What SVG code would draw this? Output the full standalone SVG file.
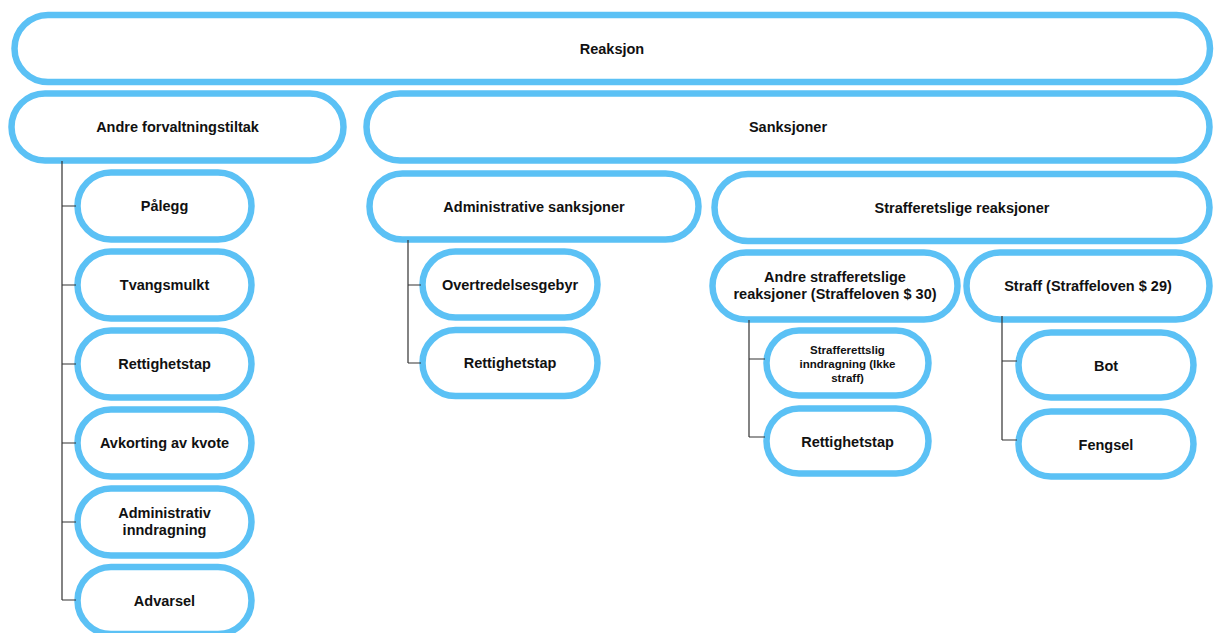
<svg xmlns="http://www.w3.org/2000/svg" width="1214" height="633" viewBox="0 0 1214 633">
  <style>
    .box { fill: #ffffff; stroke: #5BC1F5; stroke-width: 6.5; }
    .lbl { font-family: "Liberation Sans", Arial, sans-serif; font-weight: bold; font-size: 14.5px; fill: #111111; text-anchor: middle; dominant-baseline: central; }
    .sm { font-size: 11.5px; }
    .wire { fill: none; stroke: #333333; stroke-width: 1.2; }
  </style>
  <rect width="1214" height="633" fill="#ffffff"/>

  <g id="reaksjon"><rect class="box" x="14.5" y="15" width="1195.5" height="67" rx="33.5"/><text class="lbl" x="612" y="48.5">Reaksjon</text></g>
  <g id="andre-forvaltningstiltak"><rect class="box" x="11.5" y="93.5" width="332" height="67" rx="33.5"/><text class="lbl" x="177.5" y="127">Andre forvaltningstiltak</text></g>
  <g id="sanksjoner"><rect class="box" x="366.5" y="93.5" width="843" height="67" rx="33.5"/><text class="lbl" x="788" y="127">Sanksjoner</text></g>

  <g id="palegg"><rect class="box" x="77.5" y="172.5" width="174" height="67" rx="33.5"/><text class="lbl" x="164.5" y="206">Pålegg</text></g>
  <g id="tvangsmulkt"><rect class="box" x="77.5" y="251.5" width="174" height="67" rx="33.5"/><text class="lbl" x="164.5" y="285">Tvangsmulkt</text></g>
  <g id="rettighetstap-1"><rect class="box" x="77.5" y="330.5" width="174" height="67" rx="33.5"/><text class="lbl" x="164.5" y="364">Rettighetstap</text></g>
  <g id="avkorting"><rect class="box" x="77.5" y="409.5" width="174" height="67" rx="33.5"/><text class="lbl" x="164.5" y="443">Avkorting av kvote</text></g>
  <g id="administrativ-inndragning"><rect class="box" x="77.5" y="488.5" width="174" height="67" rx="33.5"/><text class="lbl" x="164.5" y="513">Administrativ</text><text class="lbl" x="164.5" y="530">inndragning</text></g>
  <g id="advarsel"><rect class="box" x="77.5" y="567" width="174" height="67" rx="33.5"/><text class="lbl" x="164.5" y="600.5">Advarsel</text></g>

  <g id="administrative-sanksjoner"><rect class="box" x="369.5" y="173.5" width="329" height="66" rx="33"/><text class="lbl" x="534" y="207">Administrative sanksjoner</text></g>
  <g id="overtredelsesgebyr"><rect class="box" x="422.5" y="251.5" width="175" height="66" rx="33"/><text class="lbl" x="510" y="284.5">Overtredelsesgebyr</text></g>
  <g id="rettighetstap-2"><rect class="box" x="422.5" y="330" width="175" height="66" rx="33"/><text class="lbl" x="510" y="363">Rettighetstap</text></g>

  <g id="strafferetslige-reaksjoner"><rect class="box" x="714.5" y="174" width="495" height="67" rx="33.5"/><text class="lbl" x="962" y="208">Strafferetslige reaksjoner</text></g>
  <g id="andre-strafferetslige"><rect class="box" x="712.5" y="252.5" width="245" height="67" rx="33.5"/><text class="lbl" x="835" y="277">Andre strafferetslige</text><text class="lbl" x="835" y="294">reaksjoner (Straffeloven $ 30)</text></g>
  <g id="straff"><rect class="box" x="966.5" y="252.5" width="243" height="67" rx="33.5"/><text class="lbl" x="1088" y="286">Straff (Straffeloven $ 29)</text></g>

  <g id="strafferettslig-inndragning"><rect class="box" x="766.5" y="330.5" width="162" height="65" rx="32.5"/><text class="lbl sm" x="847.5" y="350">Strafferettslig</text><text class="lbl sm" x="847.5" y="364">inndragning (Ikke</text><text class="lbl sm" x="847.5" y="378">straff)</text></g>
  <g id="rettighetstap-3"><rect class="box" x="766.5" y="408.5" width="162" height="65" rx="32.5"/><text class="lbl" x="847.5" y="441.5">Rettighetstap</text></g>

  <g id="bot"><rect class="box" x="1018.5" y="332.5" width="175" height="65" rx="32.5"/><text class="lbl" x="1106" y="365.5">Bot</text></g>
  <g id="fengsel"><rect class="box" x="1018.5" y="411.5" width="175" height="65" rx="32.5"/><text class="lbl" x="1106" y="444.5">Fengsel</text></g>

  <g id="connectors" class="wire">
    <path d="M62 161 V600 M62 206 H76 M62 285 H76 M62 364 H76 M62 443 H76 M62 522 H76 M62 600 H76"/>
    <path d="M408 240 V363 M408 285 H421 M408 363 H421"/>
    <path d="M749 320 V437 M749 359 H765 M749 437 H765"/>
    <path d="M1002 316 V440 M1002 361 H1017 M1002 440 H1017"/>
  </g>
</svg>
